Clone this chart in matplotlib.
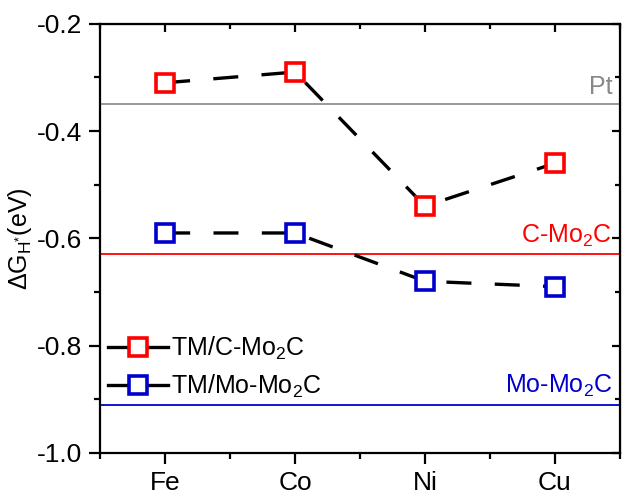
import matplotlib.pyplot as plt
from matplotlib.lines import Line2D
from matplotlib.ticker import MultipleLocator

plt.rcParams['font.family'] = ['Liberation Sans', 'DejaVu Sans']
plt.rcParams['mathtext.fontset'] = 'custom'
plt.rcParams['mathtext.rm'] = 'Liberation Sans'
plt.rcParams['mathtext.it'] = 'Liberation Sans'

metals = ['Fe', 'Co', 'Ni', 'Cu']
tm_c_mo2c = [-0.31, -0.29, -0.54, -0.46]
tm_mo_mo2c = [-0.59, -0.59, -0.68, -0.69]
pt_ref = -0.35
c_mo2c_ref = -0.63
mo_mo2c_ref = -0.91

fig = plt.figure(figsize=(6.3, 4.95), dpi=100)
ax = fig.add_axes([0.159, 0.085, 0.825, 0.867])

x = range(1, len(metals) + 1)

# reference levels
ax.axhline(pt_ref, color='#888888', lw=1.2)
ax.axhline(c_mo2c_ref, color='#ff0000', lw=1.3)
ax.axhline(mo_mo2c_ref, color='#0000cc', lw=1.3)

ax.text(4.44, pt_ref + 0.01, 'Pt', color='#888888', fontsize=18, ha='right', va='bottom')
ax.text(4.44, c_mo2c_ref + 0.01, 'C-Mo$_2$C', color='#ff0000', fontsize=18, ha='right', va='bottom')
ax.text(4.44, mo_mo2c_ref + 0.01, 'Mo-Mo$_2$C', color='#0000cc', fontsize=18, ha='right', va='bottom')

# data series
dash = (0, (7.5, 7))
ax.plot(x, tm_c_mo2c, color='black', lw=2.4, ls=dash, zorder=3)
ax.plot(x, tm_c_mo2c, ls='none', marker='s', ms=12.5, mfc='white', mec='#ff0000', mew=2.6, zorder=4)
ax.plot(x, tm_mo_mo2c, color='black', lw=2.4, ls=dash, zorder=3)
ax.plot(x, tm_mo_mo2c, ls='none', marker='s', ms=12.5, mfc='white', mec='#0000cc', mew=2.6, zorder=4)

handles = [
    Line2D([], [], color='black', lw=2.4, marker='s', ms=12.5, mfc='white', mec='#ff0000', mew=2.6),
    Line2D([], [], color='black', lw=2.4, marker='s', ms=12.5, mfc='white', mec='#0000cc', mew=2.6),
]
ax.legend(handles, ['TM/C-Mo$_2$C', 'TM/Mo-Mo$_2$C'], loc='lower left',
          bbox_to_anchor=(-0.005, 0.1), frameon=False, fontsize=18,
          handlelength=2.4, handletextpad=0.12, labelspacing=0.42, borderaxespad=0)

ax.set_xlim(0.5, 4.5)
ax.set_ylim(-1.0, -0.2)
ax.set_xticks(list(x))
ax.set_xticklabels(metals)
ax.xaxis.set_minor_locator(MultipleLocator(0.5))
ax.set_yticks([-1.0, -0.8, -0.6, -0.4, -0.2])
ax.set_yticklabels(['-1.0', '-0.8', '-0.6', '-0.4', '-0.2'])
ax.yaxis.set_minor_locator(MultipleLocator(0.1))

ax.tick_params(axis='both', which='major', direction='out', length=8, width=1.6, labelsize=19, pad=5)
ax.tick_params(axis='both', which='minor', direction='out', length=4.5, width=1.6)

for side in ['left', 'bottom', 'top', 'right']:
    ax.spines[side].set_linewidth(1.6)

# mirrored inward ticks on top and right
axt = ax.secondary_xaxis('top')
axt.set_xticks(list(x))
axt.xaxis.set_minor_locator(MultipleLocator(0.5))
axt.tick_params(which='major', direction='in', length=6, width=1.6, labeltop=False)
axt.tick_params(which='minor', direction='in', length=3.5, width=1.6)
axr = ax.secondary_yaxis('right')
axr.set_yticks([-1.0, -0.8, -0.6, -0.4, -0.2])
axr.yaxis.set_minor_locator(MultipleLocator(0.1))
axr.tick_params(which='major', direction='in', length=6, width=1.6, labelright=False)
axr.tick_params(which='minor', direction='in', length=3.5, width=1.6)

ax.set_ylabel(r'$\Delta G_{\mathrm{H^{*}}}$(eV)', fontsize=18, labelpad=2)

fig.savefig('out.png', dpi=100)
